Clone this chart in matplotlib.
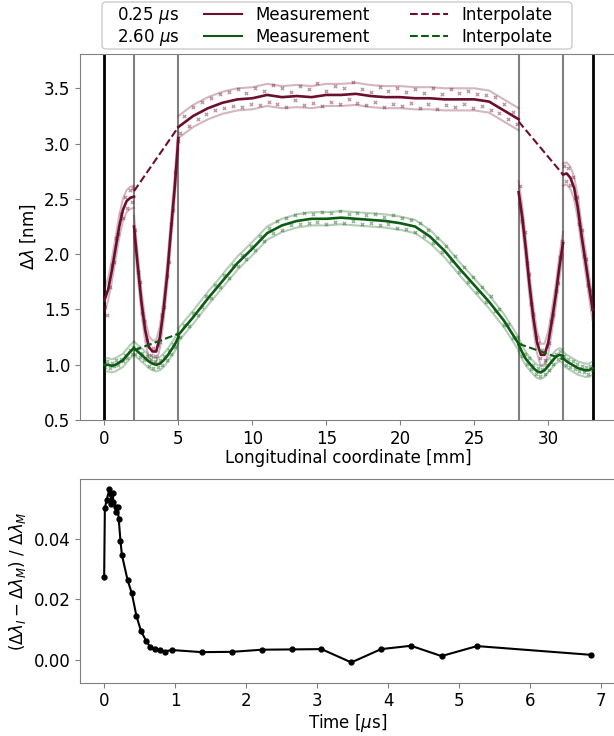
import matplotlib.pyplot as plt
from matplotlib.lines import Line2D
from matplotlib.patches import FancyBboxPatch
import numpy as np

plt.rcParams['font.size'] = 12

red = '#6e0e2e'
green = '#0b5c12'

# measured curves, one list per region between the gauge lines
seg_x = [
    [0, 0.25, 0.5, 0.75, 1.0, 1.25, 1.5, 1.75, 2.0],
    [2.0, 2.25, 2.5, 2.75, 3.0, 3.25, 3.5, 3.75, 4.0, 4.25, 4.5, 4.75, 5.0],
    [5, 6, 7, 8, 9, 10, 11, 12, 13, 14, 15, 16, 17, 18, 19, 20, 21, 22, 23, 24, 25, 26, 27, 28],
    [28, 28.25, 28.5, 28.75, 29, 29.25, 29.5, 29.75, 30, 30.25, 30.5, 30.75, 31],
    [31, 31.25, 31.5, 31.75, 32, 32.25, 32.5, 32.75, 33],
]
red_meas = [
    [1.58, 1.68, 1.85, 2.05, 2.25, 2.40, 2.48, 2.51, 2.52],
    [2.25, 1.90, 1.57, 1.32, 1.16, 1.12, 1.12, 1.25, 1.50, 1.82, 2.22, 2.60, 3.05],
    [3.15, 3.25, 3.32, 3.37, 3.40, 3.41, 3.44, 3.42, 3.43, 3.42, 3.44, 3.44, 3.45, 3.43,
     3.42, 3.42, 3.41, 3.41, 3.40, 3.40, 3.40, 3.38, 3.30, 3.22],
    [2.56, 2.33, 2.03, 1.70, 1.42, 1.20, 1.09, 1.09, 1.20, 1.40, 1.62, 1.88, 2.10],
    [2.72, 2.73, 2.69, 2.60, 2.42, 2.17, 1.95, 1.72, 1.50],
]
green_meas = [
    [1.00, 1.00, 0.99, 1.00, 1.02, 1.04, 1.08, 1.12, 1.15],
    [1.15, 1.12, 1.09, 1.06, 1.03, 1.01, 1.00, 1.01, 1.04, 1.08, 1.13, 1.18, 1.25],
    [1.27, 1.43, 1.60, 1.76, 1.92, 2.05, 2.19, 2.26, 2.30, 2.32, 2.32, 2.33, 2.32, 2.31,
     2.30, 2.28, 2.25, 2.16, 2.03, 1.87, 1.72, 1.57, 1.40, 1.19],
    [1.18, 1.11, 1.05, 1.01, 0.97, 0.94, 0.93, 0.95, 0.99, 1.03, 1.07, 1.09, 1.08],
    [1.06, 1.03, 1.01, 0.99, 0.97, 0.96, 0.95, 0.95, 0.97],
]
red_band = 0.1
green_band = 0.06

# interpolation across the two gaps
interp_x = [[2, 5], [28, 31]]
red_interp = [[2.57, 3.15], [3.20, 2.72]]
green_interp = [[1.13, 1.28], [1.19, 1.05]]

# raw samples
scatter_x = [0.05, 0.2, 0.35, 0.5, 0.65, 0.8, 0.95, 1.1, 1.25, 1.4, 1.55, 1.7, 1.85, 1.95,
             2.1, 2.25, 2.4, 2.55, 2.7, 2.85, 3.0, 3.15, 3.3, 3.45, 3.6, 3.75, 3.9, 4.05, 4.2,
             4.35, 4.5, 4.65, 4.8, 4.95,
             5.1, 5.4, 5.7, 6.0, 6.3, 6.6, 6.9, 7.2, 7.5, 7.8, 8.1, 8.4, 8.7, 9.0, 9.3, 9.6,
             9.9, 10.2, 10.5, 10.8, 11.1, 11.4, 11.7, 12.0, 12.3, 12.6, 12.9, 13.2, 13.5, 13.8,
             14.1, 14.4, 14.7, 15.0, 15.3, 15.6, 15.9, 16.2, 16.5, 16.8, 17.1, 17.4, 17.7, 18.0,
             18.3, 18.6, 18.9, 19.2, 19.5, 19.8, 20.1, 20.4, 20.7, 21.0, 21.3, 21.6, 21.9, 22.2,
             22.5, 22.8, 23.1, 23.4, 23.7, 24.0, 24.3, 24.6, 24.9, 25.2, 25.5, 25.8, 26.1, 26.4,
             26.7, 27.0, 27.3, 27.6, 27.9,
             28.1, 28.25, 28.4, 28.55, 28.7, 28.85, 29.0, 29.15, 29.3, 29.45, 29.6, 29.75, 29.9,
             30.05, 30.2, 30.35, 30.5, 30.65, 30.8, 30.95,
             31.05, 31.2, 31.35, 31.5, 31.65, 31.8, 31.95, 32.1, 32.25, 32.4, 32.55, 32.7, 32.85, 32.95]
red_pts = [1.52, 1.45, 1.70, 1.90, 1.93, 2.15, 2.18, 2.36, 2.33, 2.52, 2.42, 2.58, 2.47, 2.60,
           2.22, 1.84, 1.75, 1.47, 1.40, 1.22, 1.19, 1.09, 1.15, 1.08, 1.18, 1.21, 1.45, 1.52, 1.80,
           1.93, 2.27, 2.40, 2.74, 3.02,
           3.10, 3.25, 3.16, 3.33, 3.22, 3.38, 3.27, 3.41, 3.30, 3.45, 3.32, 3.47, 3.34, 3.49, 3.33, 3.46,
           3.36, 3.50, 3.35, 3.48, 3.38, 3.53, 3.36, 3.50, 3.33, 3.47, 3.39, 3.52, 3.35, 3.49,
           3.37, 3.55, 3.34, 3.48, 3.38, 3.52, 3.36, 3.50, 3.40, 3.56, 3.37, 3.49, 3.35, 3.47,
           3.38, 3.51, 3.33, 3.48, 3.36, 3.50, 3.34, 3.47, 3.37, 3.49, 3.32, 3.46, 3.36, 3.50,
           3.31, 3.45, 3.35, 3.49, 3.33, 3.46, 3.36, 3.48, 3.32, 3.45, 3.34, 3.44, 3.30, 3.42,
           3.28, 3.36, 3.22, 3.29, 3.18,
           2.62, 2.30, 2.20, 1.92, 1.82, 1.55, 1.46, 1.25, 1.20, 1.06, 1.13, 1.04, 1.17,
           1.20, 1.40, 1.45, 1.67, 1.74, 1.97, 2.12,
           2.80, 2.66, 2.78, 2.63, 2.70, 2.51, 2.52, 2.27, 2.22, 1.98, 1.96, 1.72, 1.68, 1.50]
green_pts = [0.98, 1.03, 0.97, 1.02, 0.99, 1.04, 1.00, 1.05, 1.03, 1.09, 1.06, 1.13, 1.10, 1.16,
             1.10, 1.15, 1.07, 1.11, 1.04, 1.08, 0.99, 1.05, 0.97, 1.03, 0.98, 1.04, 1.00, 1.08, 1.04,
             1.13, 1.10, 1.19, 1.16, 1.26,
             1.25, 1.36, 1.35, 1.47, 1.45, 1.52, 1.62, 1.60, 1.72, 1.70, 1.81, 1.78, 1.90, 1.89, 1.99, 1.96,
             2.07, 2.04, 2.16, 2.12, 2.24, 2.19, 2.30, 2.22, 2.33, 2.26, 2.35, 2.27, 2.37, 2.28,
             2.36, 2.29, 2.38, 2.27, 2.37, 2.29, 2.39, 2.28, 2.36, 2.30, 2.37, 2.27, 2.35, 2.28,
             2.36, 2.26, 2.34, 2.27, 2.35, 2.24, 2.33, 2.23, 2.31, 2.20, 2.28, 2.16, 2.22, 2.10,
             2.15, 2.02, 2.07, 1.94, 1.98, 1.84, 1.88, 1.75, 1.79, 1.66, 1.70, 1.57, 1.62, 1.49,
             1.50, 1.36, 1.37, 1.24, 1.25,
             1.19, 1.08, 1.10, 1.01, 1.06, 0.96, 1.00, 0.92, 0.97, 0.90, 0.96, 0.92, 1.00,
             0.95, 1.04, 1.01, 1.10, 1.05, 1.12, 1.06,
             1.08, 1.00, 1.05, 0.98, 1.03, 0.96, 1.01, 0.94, 0.99, 0.93, 0.98, 0.92, 0.99, 0.95]

gauge_edges = [0, 33]
gauge_inner = [2, 5, 28, 31]

# relative error vs time
time_us = [0, 0.01, 0.035, 0.075, 0.09, 0.1, 0.12, 0.13, 0.16, 0.17, 0.19, 0.205, 0.23, 0.25,
           0.33, 0.39, 0.455, 0.52, 0.59, 0.65, 0.72, 0.79, 0.85, 0.95, 1.375, 1.80, 2.22,
           2.64, 3.06, 3.48, 3.90, 4.32, 4.75, 5.25, 6.86]
rel_err = [0.0273, 0.0501, 0.0529, 0.0565, 0.0548, 0.0515, 0.0551, 0.0523, 0.0507, 0.0490,
           0.0507, 0.0466, 0.0393, 0.0347, 0.0264, 0.0220, 0.0145, 0.0095, 0.0064, 0.0042,
           0.0035, 0.0033, 0.0028, 0.0033, 0.0026, 0.0027, 0.0034, 0.0035, 0.0036, -0.0008,
           0.0036, 0.0047, 0.0013, 0.0046, 0.0017]

fig = plt.figure(figsize=(6.14, 7.36), dpi=100)
ax1 = fig.add_axes([0.1303, 0.4293, 0.8746, 0.4973])
ax2 = fig.add_axes([0.1303, 0.0724, 0.871, 0.2768])

for x in gauge_edges:
    ax1.axvline(x, color='black', lw=2, zorder=1)
for x in gauge_inner:
    ax1.axvline(x, color='gray', lw=1.5, zorder=1)

ax1.scatter(scatter_x, red_pts, marker='x', s=6, lw=0.9, color=red, alpha=0.45, zorder=2)
ax1.scatter(scatter_x, green_pts, marker='x', s=6, lw=0.9, color=green, alpha=0.45, zorder=2)

for xs, ys in zip(seg_x, red_meas):
    ys = np.array(ys)
    ax1.plot(xs, ys + red_band, color=red, lw=1.5, alpha=0.3, zorder=3)
    ax1.plot(xs, ys - red_band, color=red, lw=1.5, alpha=0.3, zorder=3)
    ax1.plot(xs, ys, color=red, lw=1.9, zorder=4)
for xs, ys in zip(seg_x, green_meas):
    ys = np.array(ys)
    ax1.plot(xs, ys + green_band, color=green, lw=1.5, alpha=0.3, zorder=3)
    ax1.plot(xs, ys - green_band, color=green, lw=1.5, alpha=0.3, zorder=3)
    ax1.plot(xs, ys, color=green, lw=1.9, zorder=4)
for xs, rs, gs in zip(interp_x, red_interp, green_interp):
    ax1.plot(xs, rs, '--', color=red, lw=1.5, zorder=4)
    ax1.plot(xs, gs, '--', color=green, lw=1.5, zorder=4)

ax1.set_xlim(-1.65, 34.65)
ax1.set_ylim(0.5, 3.81)
ax1.set_xticks([0, 5, 10, 15, 20, 25, 30])
ax1.set_yticks([0.5, 1.0, 1.5, 2.0, 2.5, 3.0, 3.5])
ax1.set_xlabel('Longitudinal coordinate [mm]', labelpad=1)
ax1.set_ylabel(r'$\Delta\lambda$ [nm]')

ax2.plot(time_us, rel_err, '-o', color='black', lw=1.5, ms=3.5)
ax2.set_xlim(-0.34, 7.19)
ax2.set_ylim(-0.0075, 0.0598)
ax2.set_yticks([0.0, 0.02, 0.04])
ax2.set_xlabel(r'Time [$\mu$s]', labelpad=1)
ax2.set_ylabel(r'$(\Delta\lambda_I - \Delta\lambda_M)\ /\ \Delta\lambda_M$')

for ax in (ax1, ax2):
    for s in ax.spines.values():
        s.set_color('0.5')
    ax.tick_params(color='0.5')

# legend
handles = [Line2D([], [], color=red, lw=1.5), Line2D([], [], color=green, lw=1.5),
           Line2D([], [], color=red, lw=1.5, ls='--'), Line2D([], [], color=green, lw=1.5, ls='--')]
labels = ['Measurement', 'Measurement', 'Interpolate', 'Interpolate']
fig.legend(handles, labels, ncol=2, loc='center', bbox_to_anchor=(0.616, 0.9647),
           frameon=False, handlelength=2.3, handletextpad=0.8, columnspacing=2.4,
           labelspacing=0.25, borderpad=0)
fig.text(0.1906, 0.9796, r'0.25 $\mu$s', va='center', ha='left')
fig.text(0.1906, 0.9497, r'2.60 $\mu$s', va='center', ha='left')
fig.patches.append(FancyBboxPatch((102, 736 - 49), 470, 47, boxstyle='round,pad=0,rounding_size=4',
                                  transform=None, facecolor='white', edgecolor='0.8', lw=1,
                                  figure=fig, zorder=0.5))

fig.savefig('out.png', dpi=100)
